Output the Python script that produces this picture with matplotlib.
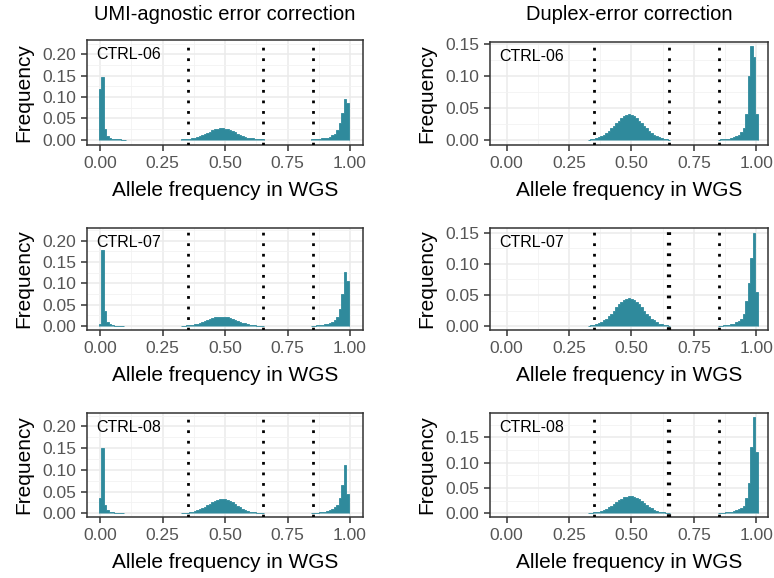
import numpy as np
from matplotlib import pyplot as plt
from matplotlib.ticker import MultipleLocator

plt.rcParams['font.family'] = ['Liberation Sans', 'DejaVu Sans']

# histogram heights, bins of 0.01 (segments start at given bin centre)
umi06_low = [0.120, 0.148, 0.025, 0.008, 0.004, 0.002, 0.001, 0.0007, 0.0005, 0.0004, 0.0003]
umi06_mid = [0.0005, 0.001, 0.0015, 0.002, 0.003, 0.004, 0.006, 0.008, 0.010, 0.013, 0.016, 0.019,
             0.022, 0.024, 0.026, 0.027, 0.027, 0.026, 0.025, 0.023, 0.020, 0.017, 0.014, 0.011,
             0.009, 0.007, 0.005, 0.004, 0.003, 0.002, 0.0015, 0.001, 0.0005]
umi06_high = [0.0008, 0.001, 0.0015, 0.002, 0.003, 0.004, 0.005, 0.007, 0.010, 0.014, 0.022,
              0.038, 0.062, 0.095, 0.085]

umi07_low = [0.005, 0.178, 0.035, 0.010, 0.004, 0.002, 0.001, 0.0007, 0.0005, 0.0003]
umi07_mid = [0.0004, 0.0008, 0.0012, 0.002, 0.003, 0.004, 0.005, 0.007, 0.009, 0.011, 0.014, 0.016,
             0.018, 0.020, 0.021, 0.022, 0.022, 0.021, 0.020, 0.019, 0.017, 0.014, 0.012, 0.010,
             0.008, 0.006, 0.005, 0.003, 0.002, 0.0015, 0.001, 0.0007, 0.0004]
umi07_high = [0.0008, 0.001, 0.0015, 0.002, 0.003, 0.004, 0.005, 0.007, 0.010, 0.015, 0.022,
              0.040, 0.075, 0.127, 0.105]

umi08_low = [0.035, 0.150, 0.020, 0.008, 0.003, 0.002, 0.001, 0.0007, 0.0005, 0.0003]
umi08_mid = [0.0005, 0.001, 0.0015, 0.002, 0.003, 0.005, 0.007, 0.009, 0.012, 0.015, 0.019, 0.022,
             0.026, 0.029, 0.031, 0.033, 0.033, 0.032, 0.031, 0.028, 0.025, 0.021, 0.017, 0.014,
             0.011, 0.008, 0.006, 0.004, 0.003, 0.002, 0.0015, 0.001, 0.0005]
umi08_high = [0.0008, 0.001, 0.0015, 0.002, 0.003, 0.004, 0.005, 0.007, 0.010, 0.014, 0.020,
              0.035, 0.065, 0.112, 0.045]

dup06_mid = [0.0005, 0.001, 0.002, 0.003, 0.004, 0.006, 0.008, 0.011, 0.014, 0.018, 0.022, 0.026,
             0.030, 0.034, 0.037, 0.039, 0.040, 0.039, 0.037, 0.034, 0.030, 0.026, 0.022, 0.018,
             0.014, 0.011, 0.008, 0.006, 0.004, 0.003, 0.002, 0.001, 0.0005]
dup06_high = [0.0005, 0.0008, 0.001, 0.0015, 0.002, 0.003, 0.004, 0.006, 0.008, 0.012, 0.018,
              0.040, 0.100, 0.146, 0.130, 0.040]

dup07_mid = [0.0005, 0.001, 0.002, 0.003, 0.005, 0.007, 0.009, 0.012, 0.016, 0.020, 0.025, 0.030,
             0.035, 0.039, 0.042, 0.044, 0.045, 0.044, 0.042, 0.039, 0.035, 0.030, 0.025, 0.020,
             0.016, 0.012, 0.009, 0.006, 0.004, 0.003, 0.002, 0.001, 0.0005]
dup07_high = [0.0005, 0.0008, 0.001, 0.0015, 0.002, 0.003, 0.004, 0.006, 0.008, 0.012, 0.020,
              0.040, 0.070, 0.110, 0.150, 0.055]

dup08_mid = [0.0004, 0.0008, 0.0015, 0.002, 0.003, 0.005, 0.007, 0.009, 0.012, 0.015, 0.019, 0.023,
             0.026, 0.029, 0.032, 0.033, 0.034, 0.034, 0.033, 0.031, 0.028, 0.024, 0.020, 0.016,
             0.013, 0.010, 0.007, 0.005, 0.003, 0.002, 0.0015, 0.0008, 0.0004]
dup08_high = [0.0005, 0.0008, 0.001, 0.0015, 0.002, 0.003, 0.004, 0.006, 0.008, 0.011, 0.015,
              0.030, 0.060, 0.130, 0.190, 0.120]

samples = ['CTRL-06', 'CTRL-07', 'CTRL-08']
col_titles = ['UMI-agnostic error correction', 'Duplex-error correction']
cutoffs = [0.35, 0.65, 0.85]

panels = [
    [(umi06_low, umi06_mid, umi06_high), (None, dup06_mid, dup06_high)],
    [(umi07_low, umi07_mid, umi07_high), (None, dup07_mid, dup07_high)],
    [(umi08_low, umi08_mid, umi08_high), (None, dup08_mid, dup08_high)],
]
starts = (0.0, 0.33, 0.85)

ylims = [[(-0.0125, 0.234), (-0.0078, 0.153)],
         [(-0.0094, 0.230), (-0.0064, 0.158)],
         [(-0.0085, 0.231), (-0.0074, 0.198)]]
xlims = [(-0.052, 1.052), (-0.067, 1.047)]

W, H = 774, 578
col_x = [(87, 363), (490, 768)]
row_y = [[(40, 145), (42, 145)], [(228, 330), (228, 330)], [(413, 517), (413, 517)]]

bar_col = '#2f8a9c'
fig = plt.figure(figsize=(7.74, 5.78), dpi=100)

for r in range(3):
    for c in range(2):
        x0, x1 = col_x[c]
        y0, y1 = row_y[r][c]
        ax = fig.add_axes([x0 / W, 1 - y1 / H, (x1 - x0) / W, (y1 - y0) / H])
        for seg, st in zip(panels[r][c], starts):
            if seg is None:
                continue
            edges = st - 0.005 + 0.01 * np.arange(len(seg) + 1)
            ax.stairs(seg, edges, fill=True, facecolor=bar_col, edgecolor=bar_col,
                      lw=0.6, zorder=2)
        lw = [2.0, 2.0, 2.0]
        if c == 1 and r > 0:
            lw = [2.0, 3.0, 2.0]
        for v, w in zip(cutoffs, lw):
            ax.axvline(v, color='black', lw=w, ls=(0, (2.0 / w, 5.6 / w)), zorder=3)
        ax.set_xlim(*xlims[c])
        ax.set_ylim(*ylims[r][c])
        ax.xaxis.set_major_locator(MultipleLocator(0.25))
        ax.xaxis.set_minor_locator(MultipleLocator(0.125))
        ax.yaxis.set_major_locator(MultipleLocator(0.05))
        ax.yaxis.set_minor_locator(MultipleLocator(0.025))
        ax.xaxis.set_major_formatter(lambda v, p: '%.2f' % v)
        ax.yaxis.set_major_formatter(lambda v, p: '%.2f' % v)
        ax.grid(which='major', color='#ebebeb', lw=1.1, zorder=0)
        ax.grid(which='minor', color='#f2f2f2', lw=0.6, zorder=0)
        ax.set_axisbelow(True)
        for s in ax.spines.values():
            s.set_color('#333333')
            s.set_linewidth(1.1)
        ax.tick_params(which='major', length=4, width=1.1, color='#333333',
                       labelsize=12.5, labelcolor='#555555', pad=4)
        ax.tick_params(which='minor', length=0)
        ax.set_xlabel('Allele frequency in WGS', fontsize=15, labelpad=7)
        ax.set_ylabel('Frequency', fontsize=15, labelpad=6)
        ax.text(0.035, 0.93, samples[r], transform=ax.transAxes, fontsize=11.5,
                ha='left', va='top', zorder=4)
        if r == 0:
            fig.text((x0 + x1) / 2 / W, 1 - 15 / H, col_titles[c], fontsize=14.5,
                     ha='center', va='center')

fig.savefig('out.png', dpi=100)
